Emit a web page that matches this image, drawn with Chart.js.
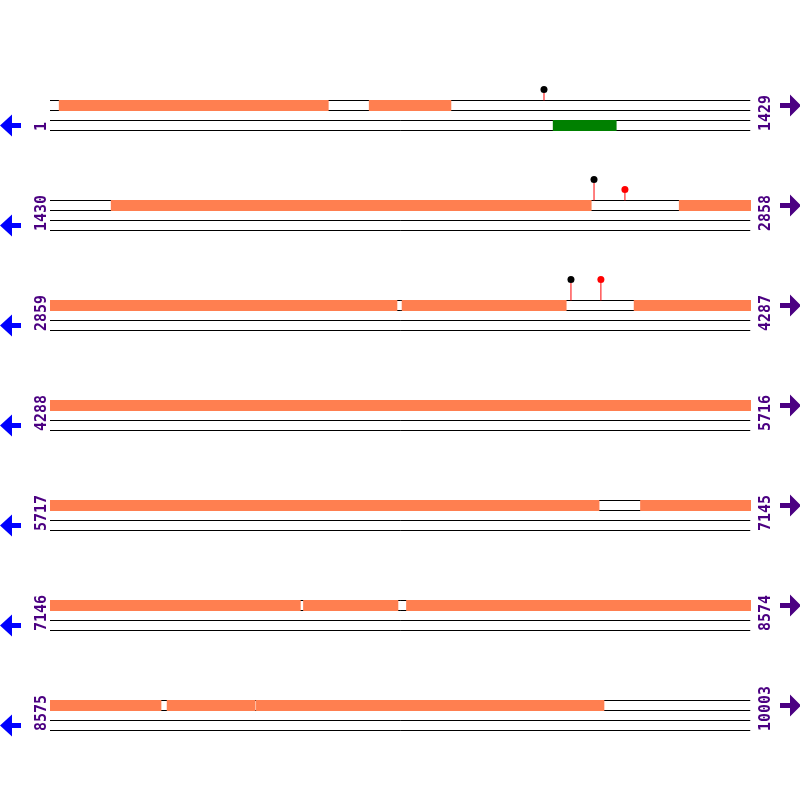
<!DOCTYPE html>
<html><head><meta charset="utf-8">
<script src="https://cdn.jsdelivr.net/npm/chart.js@4/dist/chart.umd.min.js"></script>
<style>html,body{margin:0;padding:0;background:#fff;} canvas{display:block;}</style>
</head><body>
<canvas id="c" width="800" height="800"></canvas>
<script>
// ---- data ----
const rowStarts = [1, 1430, 2859, 4288, 5717, 7146, 8575];
const rowEnds = [1429, 2858, 4287, 5716, 7145, 8574, 10003];
const featureStarts = [19, 651, 1554, 2712, 3576, 4049, 6920, 7662, 7872, 8813, 8995];
const featureEnds   = [568, 818, 2533, 3566, 3911, 6836, 7656, 7855, 8801, 8993, 9704];
const lowerStarts = [1026];
const lowerEnds = [1155];
const markerPositions = [1008, 2539, 2602, 3921, 3982];
const markerHeights = [1, 2, 1, 2, 2];
const markerColors = ['#000000', '#000000', '#ff0000', '#000000', '#ff0000'];

// ---- styling / layout ----
const ROW_LEN = 1429;
const ORANGE = '#ff7f50';
const GREEN = '#008000';
const PURPLE = '#4b0082';
const BLUE = '#0000ff';
const trackOffsets = [0, 0.1, 0.2, 0.3];

const datasets = [];
// track lines
rowStarts.forEach((s, k) => {
  trackOffsets.forEach(o => {
    datasets.push({ data: [{x: 0, y: k + o}, {x: ROW_LEN - 1.5, y: k + o}],
      borderColor: '#000', borderWidth: 1, order: 4 });
  });
});
function addSegments(starts, ends, yOff, color) {
  starts.forEach((fs, i) => {
    const fe = ends[i];
    rowStarts.forEach((rs, k) => {
      const re = rowEnds[k];
      const a = Math.max(fs, rs), b = Math.min(fe, re);
      if (a <= b) {
        datasets.push({ data: [{x: a - rs, y: k + yOff}, {x: b - rs + 1, y: k + yOff}],
          borderColor: color, borderWidth: 11, order: 3 });
      }
    });
  });
}
addSegments(featureStarts, featureEnds, 0.05, ORANGE);
addSegments(lowerStarts, lowerEnds, 0.25, GREEN);
// lollipops
markerPositions.forEach((p, i) => {
  const k = rowStarts.findIndex((rs, j) => p >= rs && p <= rowEnds[j]);
  const x = p - rowStarts[k];
  const top = k - markerHeights[i] * 0.1;
  datasets.push({ data: [{x: x, y: k}, {x: x, y: top + 0.02}],
    borderColor: '#ff0000', borderWidth: 1, order: 2 });
  datasets.push({ data: [{x: x, y: top - 0.01}], showLine: false,
    pointRadius: 3.5, pointBackgroundColor: markerColors[i], pointBorderWidth: 0,
    pointBorderColor: markerColors[i], order: 1 });
});

const deco = {
  id: 'deco',
  afterDatasetsDraw(chart) {
    const ctx = chart.ctx, xs = chart.scales.x, ys = chart.scales.y;
    const L = xs.getPixelForValue(0), R = xs.getPixelForValue(ROW_LEN);
    ctx.save();
    ctx.font = 'bold 15px "DejaVu Sans Mono", monospace';
    ctx.fillStyle = PURPLE;
    rowStarts.forEach((s, k) => {
      const yb = ys.getPixelForValue(k + 0.3) + 0.5;
      // left label
      ctx.save();
      ctx.translate(L - 4, yb);
      ctx.rotate(-Math.PI / 2);
      ctx.textAlign = 'left'; ctx.textBaseline = 'alphabetic';
      ctx.fillStyle = PURPLE;
      ctx.fillText(String(s), 0, 0);
      ctx.restore();
      // right label
      ctx.save();
      ctx.translate(R + 19, yb);
      ctx.rotate(-Math.PI / 2);
      ctx.textAlign = 'left'; ctx.textBaseline = 'alphabetic';
      ctx.fillStyle = PURPLE;
      ctx.fillText(String(rowEnds[k]), 0, 0);
      ctx.restore();
      // left arrow (blue)
      let yc = ys.getPixelForValue(k + 0.25);
      let x0 = L - 50;
      ctx.fillStyle = BLUE;
      ctx.beginPath();
      ctx.moveTo(x0, yc);
      ctx.lineTo(x0 + 12, yc - 11);
      ctx.lineTo(x0 + 12, yc - 2.5);
      ctx.lineTo(x0 + 21, yc - 2.5);
      ctx.lineTo(x0 + 21, yc + 2.5);
      ctx.lineTo(x0 + 12, yc + 2.5);
      ctx.lineTo(x0 + 12, yc + 11);
      ctx.closePath();
      ctx.fill();
      // right arrow (purple)
      yc = ys.getPixelForValue(k + 0.05);
      x0 = R + 29;
      ctx.fillStyle = PURPLE;
      ctx.beginPath();
      ctx.moveTo(x0 + 21, yc);
      ctx.lineTo(x0 + 10, yc - 11);
      ctx.lineTo(x0 + 10, yc - 2.5);
      ctx.lineTo(x0, yc - 2.5);
      ctx.lineTo(x0, yc + 2.5);
      ctx.lineTo(x0 + 10, yc + 2.5);
      ctx.lineTo(x0 + 10, yc + 11);
      ctx.closePath();
      ctx.fill();
    });
    ctx.restore();
  }
};

new Chart(document.getElementById('c'), {
  type: 'scatter',
  data: { datasets: datasets },
  options: {
    responsive: false, animation: false, devicePixelRatio: 1,
    layout: { autoPadding: false, padding: { left: 50, right: 49, top: 0, bottom: 0 } },
    datasets: { scatter: { showLine: true, pointRadius: 0, fill: false, borderCapStyle: 'butt', clip: false } },
    elements: { point: { radius: 0, hoverRadius: 0 } },
    plugins: { legend: { display: false }, tooltip: { enabled: false } },
    events: [],
    scales: {
      x: { type: 'linear', min: 0, max: ROW_LEN, display: false },
      y: { type: 'linear', min: -1.005, max: 6.995, reverse: true, display: false }
    }
  },
  plugins: [deco]
});
</script>
</body></html>
